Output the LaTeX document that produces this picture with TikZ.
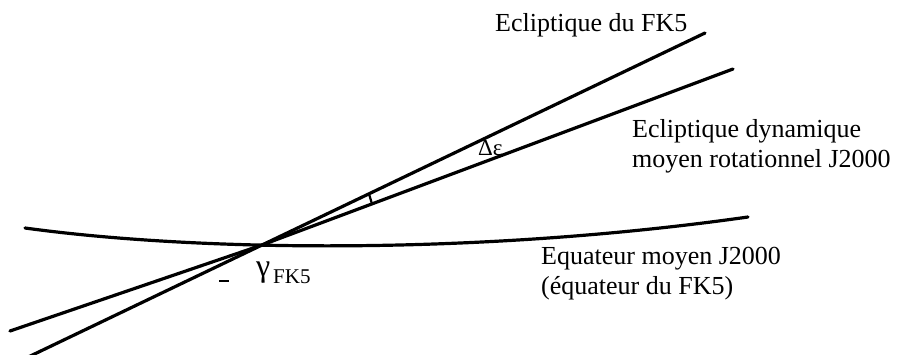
\documentclass[tikz,border=0pt]{standalone}
\usepackage{fontspec}
\setmainfont{Liberation Serif}
\usetikzlibrary{calc}
\begin{document}
\begin{tikzpicture}[x=1pt,y=-1pt,
  curve/.style={line width=3.2pt, line cap=round, line join=round},
  lbl/.style={inner sep=0pt, anchor=base west, font=\fontsize{26}{30}\selectfont}]
\useasboundingbox (0,0) rectangle (900,354);
\coordinate (G) at (262,245);
\coordinate (fkhi) at (705,33);
\coordinate (fklo) at (22,360);
\coordinate (dynhi) at (733,69);
\coordinate (dynlo) at (10,331);
\coordinate (eqlo) at (25,228);
\coordinate (eqhi) at (748,217);
\begin{scope}
\clip (0,0) rectangle (900,354);
\draw[curve] (fklo) -- (G) -- (fkhi);
\draw[curve] (dynlo) -- (G) -- (dynhi);
\draw[curve] (eqlo) .. controls (200,252) and (480,255) .. (eqhi);
\end{scope}
\draw[line width=2.2pt] ($(G)!0.2415!(fkhi)$) coordinate (t1) -- ($(G)!0.2335!(dynhi)$) coordinate (t2);
\coordinate (d1) at (219,281);
\coordinate (d2) at (229,281);
\draw[line width=1.3pt] (d1) -- (d2);
\node[lbl] (lfk5) at (495,31) {Ecliptique du FK5};
\node[lbl] (ldyn1) at (632,137) {Ecliptique dynamique};
\node[lbl] (ldyn2) at (632,167) {moyen rotationnel J2000};
\node[lbl] (leq1) at (541,264) {Equateur moyen J2000};
\node[lbl] (leq2) at (541,294) {(équateur du FK5)};
\node[lbl, font=\fontsize{23}{27}\selectfont] (ldeps) at (478,155) {Δε};
\node[lbl, font=\fontsize{32}{36}\selectfont] (lgam) at (256,276) {γ};
\node[lbl, font=\fontsize{21}{25}\selectfont] (lfk) at (273,283) {FK5};
\end{tikzpicture}
\end{document}
